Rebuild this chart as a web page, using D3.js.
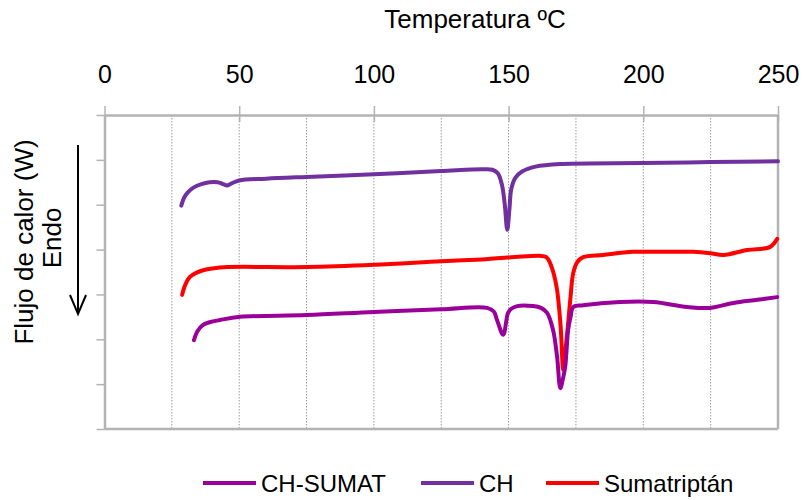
<!DOCTYPE html>
<html>
<head>
<meta charset="utf-8">
<script src="https://cdn.jsdelivr.net/npm/d3@7"></script>
<style>
  body { margin: 0; background: #fff; }
  svg { font-family: "Liberation Sans", Arial, sans-serif; }
</style>
</head>
<body>
<svg id="chart"></svg>
<script>
// temperature (ºC) / heat flow (arbitrary units, endo down)
const chTemp = [28.5, 29.5, 31, 33, 36, 39, 42, 44, 45.5, 47, 50, 60, 75, 100, 125, 140, 144, 146, 147.5, 148.5, 149.5, 150.3, 151, 152.5, 155, 160, 170, 200, 225, 250];
const chFlow = [4.98, 5.15, 5.28, 5.38, 5.46, 5.50, 5.50, 5.46, 5.43, 5.47, 5.54, 5.58, 5.62, 5.68, 5.75, 5.79, 5.78, 5.70, 5.45, 5.05, 4.44, 4.90, 5.35, 5.60, 5.74, 5.85, 5.91, 5.93, 5.95, 5.97];

const sumaTemp = [28.8, 30, 31.7, 34, 36.6, 40, 45.9, 75, 100, 125, 140, 161.7, 164, 165.4, 166.8, 168, 169.3, 170.3, 171.2, 172.1, 173, 174, 175.5, 177.7, 185, 196, 203, 218.5, 224.8, 229.7, 238.6, 247.1, 249.7];
const sumaFlow = [2.99, 3.22, 3.39, 3.48, 3.54, 3.58, 3.61, 3.61, 3.66, 3.74, 3.78, 3.86, 3.83, 3.70, 3.45, 3.10, 2.30, 1.32, 1.80, 2.36, 2.95, 3.48, 3.72, 3.83, 3.88, 3.95, 3.95, 3.95, 3.92, 3.88, 3.99, 4.06, 4.24];

const mixTemp = [33.2, 34.5, 36.6, 39, 42.9, 50.3, 75, 100, 125, 142, 144.5, 145.7, 148, 149.8, 151, 153.2, 159.1, 162, 164.3, 166.5, 168, 169.2, 170.1, 171, 172.1, 173, 174, 177.7, 191.4, 203.7, 216.3, 224.8, 233.4, 242.3, 249.7];
const mixFlow = [1.98, 2.18, 2.32, 2.38, 2.43, 2.50, 2.54, 2.61, 2.67, 2.70, 2.62, 2.43, 2.10, 2.59, 2.68, 2.74, 2.74, 2.70, 2.59, 2.21, 1.61, 0.91, 1.10, 1.38, 2.21, 2.50, 2.72, 2.76, 2.83, 2.83, 2.72, 2.70, 2.81, 2.88, 2.94];

const seriesNames = ['CH-SUMAT', 'CH', 'Sumatriptán'];
const seriesColors = ['#9a0099', '#7030a0', '#ff0000'];

const xTicks = [0, 50, 100, 150, 200, 250];
const xGrid = d3.range(25, 250, 25);
const yTicks = d3.range(0, 8);

const width = 804, height = 500;
const margin = {top: 115, right: 26, bottom: 71, left: 104.5};

const svg = d3.select('#chart')
    .attr('width', width)
    .attr('height', height);

const x = d3.scaleLinear().domain([0, 250]).range([margin.left, width - margin.right]);
const y = d3.scaleLinear().domain([0, 7]).range([height - margin.bottom, margin.top]);

// dotted vertical grid every 25 ºC
svg.append('g')
    .selectAll('line')
    .data(xGrid)
    .join('line')
    .attr('x1', d => x(d)).attr('x2', d => x(d))
    .attr('y1', y(7)).attr('y2', y(0))
    .attr('stroke', '#9a9a9a')
    .attr('stroke-width', 1)
    .attr('stroke-dasharray', '1.5,1.5');

// frame: left, bottom, right
const frameColor = '#b3b3b3';
svg.append('line')
    .attr('x1', x(0)).attr('x2', x(250)).attr('y1', y(0)).attr('y2', y(0))
    .attr('stroke', frameColor).attr('stroke-width', 2.5);
svg.append('line')
    .attr('x1', x(250)).attr('x2', x(250)).attr('y1', y(7)).attr('y2', y(0))
    .attr('stroke', frameColor).attr('stroke-width', 2.5);

// left axis, no labels
const yAxis = svg.append('g')
    .attr('transform', `translate(${x(0)},0)`)
    .call(d3.axisLeft(y).tickValues(yTicks).tickSize(8).tickSizeOuter(0).tickFormat(''));
yAxis.select('.domain').attr('stroke', frameColor).attr('stroke-width', 2.5);
yAxis.selectAll('.tick line').attr('stroke', frameColor).attr('stroke-width', 1.5);

// top axis with labels
const xAxis = svg.append('g')
    .attr('transform', `translate(0,${y(7)})`)
    .call(d3.axisTop(x).tickValues(xTicks).tickSize(9).tickSizeOuter(0).tickPadding(23));
xAxis.select('.domain').attr('stroke', frameColor).attr('stroke-width', 2.5);
xAxis.selectAll('.tick line')
    .attr('y2', 7).attr('y1', -9)
    .attr('stroke', frameColor).attr('stroke-width', 1.5);
xAxis.selectAll('.tick text')
    .attr('font-size', '25px')
    .attr('font-family', '"Liberation Sans", Arial, sans-serif')
    .attr('fill', '#000');

// curves
const line = d3.line()
    .x(d => x(d[0]))
    .y(d => y(d[1]))
    .curve(d3.curveCatmullRom.alpha(0.5));

const series = [
    {name: seriesNames[1], color: seriesColors[1], temp: chTemp, flow: chFlow},
    {name: seriesNames[2], color: seriesColors[2], temp: sumaTemp, flow: sumaFlow},
    {name: seriesNames[0], color: seriesColors[0], temp: mixTemp, flow: mixFlow}
];

svg.append('g')
    .selectAll('path')
    .data(series)
    .join('path')
    .attr('d', s => line(d3.zip(s.temp, s.flow)))
    .attr('fill', 'none')
    .attr('stroke', s => s.color)
    .attr('stroke-width', 4)
    .attr('stroke-linecap', 'round')
    .attr('stroke-linejoin', 'round');

// titles
svg.append('text')
    .attr('x', 475).attr('y', 28)
    .attr('text-anchor', 'middle')
    .attr('font-size', '26px')
    .text('Temperatura ºC');

svg.append('text')
    .attr('transform', 'translate(33,242) rotate(-90)')
    .attr('text-anchor', 'middle')
    .attr('font-size', '26px')
    .text('Flujo de calor (W)');

svg.append('text')
    .attr('transform', 'translate(61,238) rotate(-90)')
    .attr('text-anchor', 'middle')
    .attr('font-size', '26px')
    .text('Endo');

// endo arrow
svg.append('path')
    .attr('d', 'M78,145 L78,313 M70,295 L78,314 L86,295')
    .attr('fill', 'none')
    .attr('stroke', '#000')
    .attr('stroke-width', 2);

// legend
const legendX = [203, 421, 546];
const legend = svg.append('g')
    .selectAll('g')
    .data(seriesNames)
    .join('g')
    .attr('transform', (d, i) => `translate(${legendX[i]},483)`);

legend.append('line')
    .attr('x1', 0).attr('x2', 53)
    .attr('stroke', (d, i) => seriesColors[i])
    .attr('stroke-width', 4);

legend.append('text')
    .attr('x', 58).attr('y', 9)
    .attr('font-size', '24px')
    .text(d => d);
</script>
</body>
</html>
